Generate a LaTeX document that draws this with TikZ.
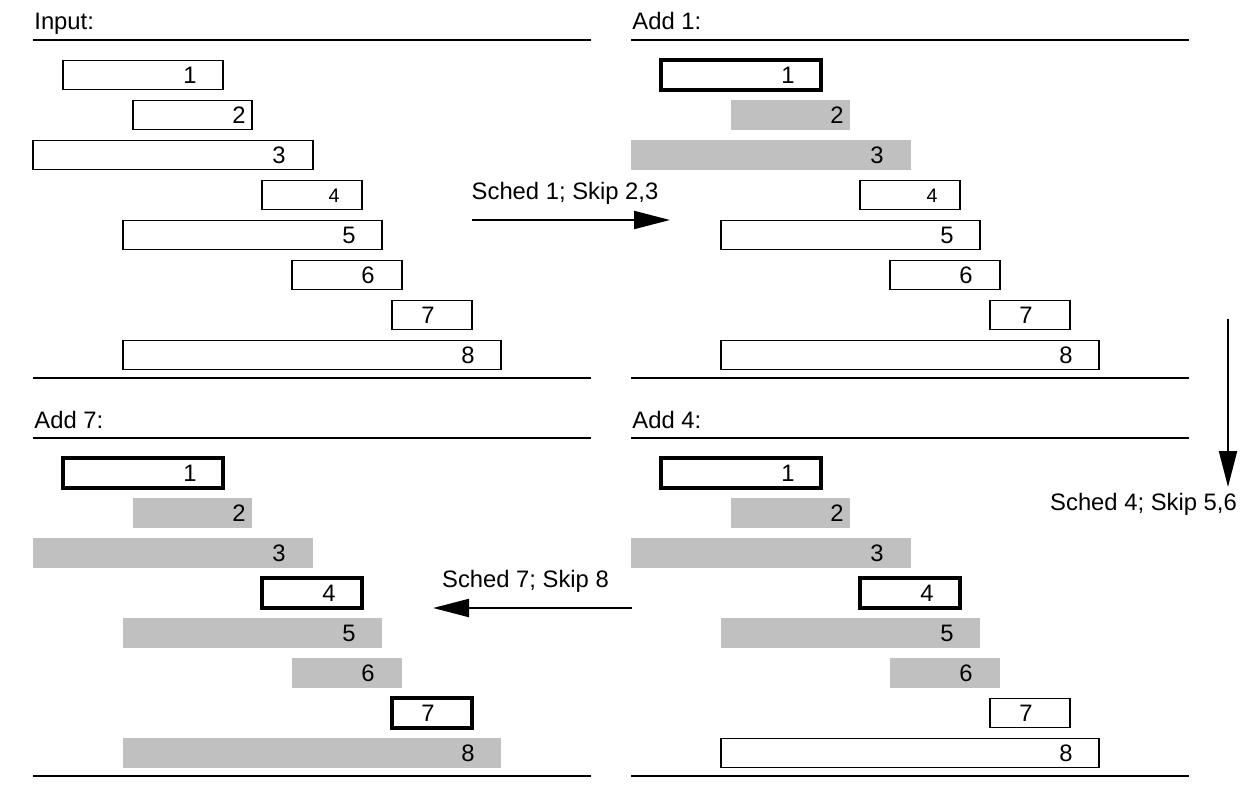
\documentclass[tikz,border=0pt]{standalone}
\usepackage{fontspec}
\setmainfont{Liberation Sans}
\usetikzlibrary{arrows.meta}
\definecolor{skipgray}{RGB}{192,192,192}
\tikzset{
  plain/.style={draw, line width=0.6pt, fill=white, inner sep=0pt, outer sep=0pt},
  sched/.style={draw, line width=2.2pt, fill=white, inner sep=0pt, outer sep=0pt},
  skip/.style={fill=skipgray, draw=none, inner sep=0pt, outer sep=0pt},
  lbl/.style={inner sep=0pt, font=\fontsize{11.9}{13}\selectfont},
  smalllbl/.style={inner sep=0pt, font=\fontsize{9.8}{11}\selectfont},
  title/.style={inner sep=0pt, anchor=base west, font=\fontsize{11.9}{13}\selectfont},
  rule/.style={line width=0.7pt},
  flow/.style={line width=1pt, -{Triangle[length=18pt,width=9pt]}},
}
% #1 name, #2 box style, #3 x1, #4 x2, #5 y top, #6 label x, #7 label style, #8 text
\newcommand\jbox[8]{%
  \node[#2, minimum width={(#4-#3)*0.5pt}, minimum height=14.8pt] (#1) at ({(#3+#4)/2},{#5+15}) {};
  \node[#7] (#1l) at (#6,{#5+15.5}) {#8};
}
\begin{document}
\begin{tikzpicture}[x=0.5pt,y=-0.5pt]
\useasboundingbox (0,0) rectangle (1247,797);

% ---------- Input ----------
\begin{scope}
  \node[title] (tIn) at (34,30) {Input:};
  \draw[rule] (33,40) -- (591,40);
  \draw[rule] (33,378) -- (591,378);
  \jbox{a1}{plain}{63}{223}{60}{190}{lbl}{1}
  \jbox{a2}{plain}{133}{252}{100}{239}{lbl}{2}
  \jbox{a3}{plain}{33}{313}{140}{279}{lbl}{3}
  \jbox{a4}{plain}{262}{362}{180}{334}{smalllbl}{4}
  \jbox{a5}{plain}{123}{382}{220}{349}{lbl}{5}
  \jbox{a6}{plain}{292}{402}{260}{368}{lbl}{6}
  \jbox{a7}{plain}{392}{472}{300}{428}{lbl}{7}
  \jbox{a8}{plain}{123}{501}{340}{468}{lbl}{8}
\end{scope}

% ---------- Add 1 ----------
\begin{scope}[shift={(598,0)}]
  \node[title] (tA1) at (34,30) {Add 1:};
  \draw[rule] (33,40) -- (591,40);
  \draw[rule] (33,378) -- (591,378);
  \jbox{b1}{sched}{63}{223}{60}{190}{lbl}{1}
  \jbox{b2}{skip}{133}{252}{100}{239}{lbl}{2}
  \jbox{b3}{skip}{33}{313}{140}{279}{lbl}{3}
  \jbox{b4}{plain}{262}{362}{180}{334}{smalllbl}{4}
  \jbox{b5}{plain}{123}{382}{220}{349}{lbl}{5}
  \jbox{b6}{plain}{292}{402}{260}{368}{lbl}{6}
  \jbox{b7}{plain}{392}{472}{300}{428}{lbl}{7}
  \jbox{b8}{plain}{123}{501}{340}{468}{lbl}{8}
\end{scope}

% ---------- Add 7 ----------
\begin{scope}[shift={(0,398)}]
  \node[title] (tA7) at (34,30) {Add 7:};
  \draw[rule] (33,40) -- (591,40);
  \draw[rule] (33,378) -- (591,378);
  \jbox{c1}{sched}{63}{223}{60}{190}{lbl}{1}
  \jbox{c2}{skip}{133}{252}{100}{239}{lbl}{2}
  \jbox{c3}{skip}{33}{313}{140}{279}{lbl}{3}
  \jbox{c4}{sched}{262}{362}{180}{329}{lbl}{4}
  \jbox{c5}{skip}{123}{382}{220}{349}{lbl}{5}
  \jbox{c6}{skip}{292}{402}{260}{368}{lbl}{6}
  \jbox{c7}{sched}{392}{472}{300}{428}{lbl}{7}
  \jbox{c8}{skip}{123}{501}{340}{468}{lbl}{8}
\end{scope}

% ---------- Add 4 ----------
\begin{scope}[shift={(598,398)}]
  \node[title] (tA4) at (34,30) {Add 4:};
  \draw[rule] (33,40) -- (591,40);
  \draw[rule] (33,378) -- (591,378);
  \jbox{d1}{sched}{63}{223}{60}{190}{lbl}{1}
  \jbox{d2}{skip}{133}{252}{100}{239}{lbl}{2}
  \jbox{d3}{skip}{33}{313}{140}{279}{lbl}{3}
  \jbox{d4}{sched}{262}{362}{180}{329}{lbl}{4}
  \jbox{d5}{skip}{123}{382}{220}{349}{lbl}{5}
  \jbox{d6}{skip}{292}{402}{260}{368}{lbl}{6}
  \jbox{d7}{plain}{392}{472}{300}{428}{lbl}{7}
  \jbox{d8}{plain}{123}{501}{340}{468}{lbl}{8}
\end{scope}

% ---------- transitions ----------
\coordinate (s1a) at (472,220);
\coordinate (s1b) at (670,220);
\coordinate (s2a) at (1228,319);
\coordinate (s2b) at (1228,487);
\coordinate (s3a) at (632,608);
\coordinate (s3b) at (433,608);
\draw[flow] (s1a) -- (s1b);
\draw[flow] (s2a) -- (s2b);
\draw[flow] (s3a) -- (s3b);
\node[lbl, anchor=base] (m1) at (565,199) {Sched 1; Skip 2,3};
\node[lbl, anchor=base] (m2) at (1143.5,510) {Sched 4; Skip 5,6};
\node[lbl, anchor=base] (m3) at (525.5,587) {Sched 7; Skip 8};
\end{tikzpicture}
\end{document}
